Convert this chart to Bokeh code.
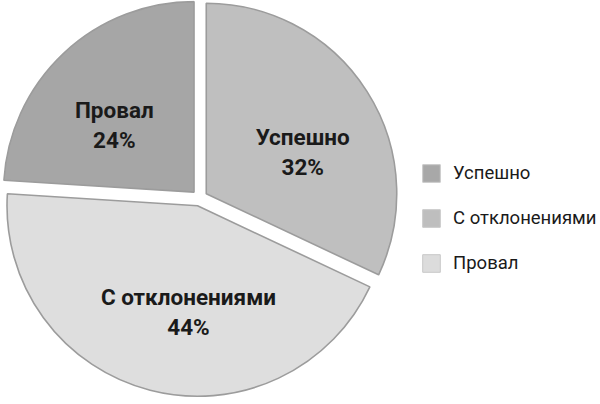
import numpy as np
from bokeh.plotting import figure
from bokeh.models import Range1d, ColumnDataSource, Legend, LegendItem
from bokeh.core.properties import value
from bokeh.embed import file_html
from bokeh.resources import INLINE

# ---- data ----
categories = ["Успешно", "С отклонениями", "Провал"]
shares = [32, 44, 24]

# ---- style ----
slice_colors = ["#bfbfbf", "#dedede", "#a6a6a6"]
legend_colors = ["#a8a8a8", "#bebebe", "#dcdcdc"]
label_nudge_x = [8, 17, -8]     # px, label placement tweaks
label_nudge_y = [-14, -5, -9]

FONT = "Roboto"

W, H = 600, 404
p = figure(width=W, height=H, output_backend="svg", toolbar_location=None,
           x_range=Range1d(0, W), y_range=Range1d(0, H),
           min_border=0, outline_line_color=None)
p.axis.visible = False
p.grid.visible = False
p.background_fill_color = "white"

cx, cy, R, explode = 199.0, 206.5, 190.5, 8.0

vals = np.array(shares, dtype=float)
frac = vals / vals.sum()
cum = np.concatenate([[0], np.cumsum(frac)])
end = np.deg2rad(90 - cum[:-1] * 360)
start = np.deg2rad(90 - cum[1:] * 360)
mid = (start + end) / 2
xs = cx + explode * np.cos(mid)
ys = cy + explode * np.sin(mid)
lx = xs + 0.55 * R * np.cos(mid) + np.array(label_nudge_x)
ly = ys + 0.55 * R * np.sin(mid) + np.array(label_nudge_y)
labels = [f"{c}\n{int(v)}%" for c, v in zip(categories, shares)]

src = ColumnDataSource(dict(x=xs, y=ys, start=start, end=end, color=slice_colors,
                            lx=lx, ly=ly, label=labels))
p.wedge(x="x", y="y", radius=R, start_angle="start", end_angle="end",
        direction="anticlock", fill_color="color", line_color="#9c9c9c",
        line_width=1.6, source=src)
p.text(x="lx", y="ly", text="label", source=src, text_align="center",
       text_baseline="middle", text_font=value(FONT), text_font_style="bold",
       text_font_size="22.5px", text_color="#1a1a1a", text_line_height=1.15)

items = []
for cat, col in zip(categories, legend_colors):
    r = p.quad(left=[np.nan], right=[np.nan], top=[np.nan], bottom=[np.nan],
               fill_color=col, line_color="#c8c8c8", line_width=1)
    items.append(LegendItem(label=cat, renderers=[r]))

legend = Legend(items=items, location=(420, 130), orientation="vertical",
                glyph_width=22, glyph_height=22, label_height=20,
                spacing=23, padding=0, margin=0, label_standoff=11,
                label_text_font=FONT, label_text_font_size="18.5px",
                label_text_color="#1a1a1a", border_line_color=None,
                background_fill_alpha=0)
p.add_layout(legend)

open("out.html", "w").write(file_html(p, INLINE))
